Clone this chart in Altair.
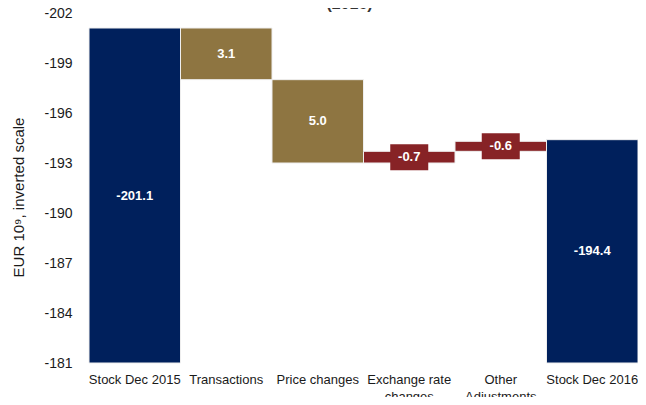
import altair as alt
import pandas as pd

categories = ["Stock Dec 2015", "Transactions", "Price changes",
              "Exchange rate changes", "Other Adjustments", "Stock Dec 2016"]
values = [-201.1, 3.1, 5.0, -0.7, -0.6, -194.4]
kinds = ["stock", "increase", "increase", "decrease", "decrease", "stock"]
value_labels = ["-201.1", "3.1", "5.0", "-0.7", "-0.6", "-194.4"]
y_ticks = [-202, -199, -196, -193, -190, -187, -184, -181]
axis_base = -181

rows = []
running = None
for cat, v, k, lab in zip(categories, values, kinds, value_labels):
    if k == "stock":
        start, end = axis_base, v
        running = v
    else:
        start, end = running, running + v
        running = end
    rows.append({"category": cat, "start": start, "end": end,
                 "mid": (start + end) / 2, "kind": k, "label": lab})
df = pd.DataFrame(rows)

NAVY = "#00205c"
GOLD = "#8e7541"
RED = "#872326"
FONT = "Liberation Sans, Arial"

x_enc = alt.X("category:N", sort=categories,
              scale=alt.Scale(paddingInner=0, paddingOuter=0),
              axis=alt.Axis(title=None, labelAngle=0, domain=False, ticks=False,
                            labelPadding=10, labelFontSize=13, labelFont=FONT,
                            labelColor="#1a1a1a", labelBaseline="top", labelLineHeight=17,
                            labelExpr="datum.label == 'Exchange rate changes' ? ['Exchange rate', 'changes'] : datum.label == 'Other Adjustments' ? ['Other', 'Adjustments'] : datum.label"))

y_scale = alt.Scale(domain=[-202, -181], reverse=True, nice=False, zero=False)

bars = alt.Chart(df).mark_bar(stroke="#eeeeee", strokeWidth=1).encode(
    x=x_enc,
    y=alt.Y("start:Q", scale=y_scale,
            axis=alt.Axis(values=y_ticks, title="EUR 10⁹, inverted scale",
                          labelExpr="'' + datum.value", domain=False, ticks=False,
                          grid=False, labelPadding=17, labelFontSize=14,
                          labelFont=FONT, labelColor="#1a1a1a",
                          titleFont=FONT, titleFontSize=15,
                          titleFontWeight="normal", titleColor="#1a1a1a",
                          titlePadding=17, titleY=184)),
    y2="end:Q",
    color=alt.Color("kind:N", scale=alt.Scale(domain=["stock", "increase", "decrease"],
                                              range=[NAVY, GOLD, RED]), legend=None),
)

boxes = alt.Chart(df).transform_filter(alt.datum.kind == "decrease").mark_point(
    shape="M-1,-0.684L1,-0.684L1,0.684L-1,0.684Z", filled=True, size=1444,
    opacity=1, strokeWidth=0, color=RED,
).encode(x=alt.X("category:N", sort=categories), y=alt.Y("mid:Q", scale=y_scale))

labels = alt.Chart(df).mark_text(
    color="white", fontWeight="bold", fontSize=13, font=FONT, baseline="middle",
).encode(x=alt.X("category:N", sort=categories), y=alt.Y("mid:Q", scale=y_scale),
         text="label:N")

chart = alt.layer(bars, boxes, labels).properties(
    width=549, height=350,
    title=alt.TitleParams("(2016)", fontSize=16, fontWeight="bold", color="#333333",
                          anchor="middle", frame="group", dx=-14, offset=-6,
                          font=FONT),
    autosize=alt.AutoSizeParams(type="none"),
    padding={"left": 81, "top": 5, "right": 0, "bottom": 34},
).configure_view(stroke=None)

chart.save("out.html", embed_options={"renderer": "svg", "actions": False})
